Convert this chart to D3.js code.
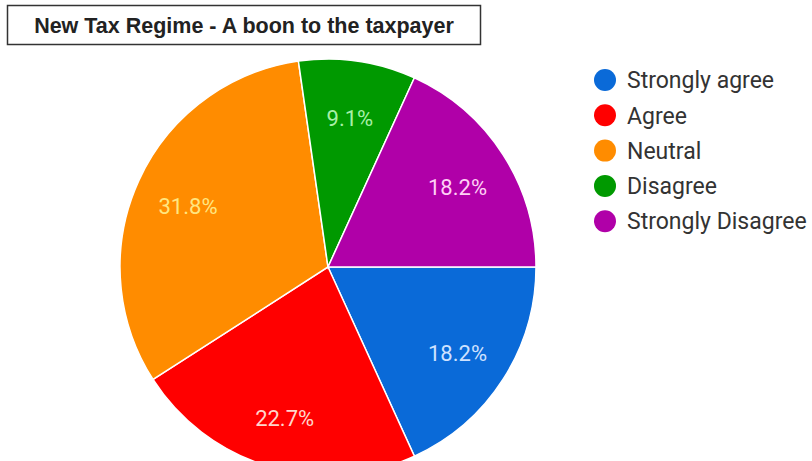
<!DOCTYPE html>
<html>
<head>
<meta charset="utf-8">
<script src="https://cdn.jsdelivr.net/npm/d3@7"></script>
<style>
  html, body { margin: 0; padding: 0; background: #ffffff; }
  svg { display: block; }
</style>
</head>
<body>
<svg id="chart" width="812" height="461"></svg>
<script>
// data
const categories = ["Strongly agree", "Agree", "Neutral", "Disagree", "Strongly Disagree"];
const counts = [4, 5, 7, 2, 4];
const pctLabels = ["18.2%", "22.7%", "31.8%", "9.1%", "18.2%"];
const colors = ["#0a6ad8", "#ff0000", "#ff8c00", "#009900", "#b000a8"];
const labelColors = ["#cfe2ff", "#ffd6cc", "#ffe680", "#a8f0a8", "#ffd0f5"];

const svg = d3.select("#chart");

// title box
svg.append("rect")
  .attr("x", 7.5).attr("y", 5.5)
  .attr("width", 473).attr("height", 39)
  .attr("fill", "#fff")
  .attr("stroke", "#333")
  .attr("stroke-width", 1.5);
svg.append("text")
  .attr("x", 244).attr("y", 33)
  .attr("text-anchor", "middle")
  .attr("font-family", "Liberation Sans, Arial, sans-serif")
  .attr("font-weight", "bold")
  .attr("font-size", 21.5)
  .attr("fill", "#222")
  .text("New Tax Regime - A boon to the taxpayer");

// pie
const cx = 328, cy = 267, r = 208;
const pie = d3.pie().sort(null)
  .startAngle(Math.PI / 2)
  .endAngle(Math.PI / 2 + 2 * Math.PI);
const arcs = pie(counts);
const arc = d3.arc().innerRadius(0).outerRadius(r);
const labelArc = d3.arc().innerRadius(r * 0.74).outerRadius(r * 0.74);

const g = svg.append("g").attr("transform", `translate(${cx},${cy})`);
g.selectAll("path")
  .data(arcs)
  .enter()
  .append("path")
  .attr("d", arc)
  .attr("fill", (d, i) => colors[i])
  .attr("stroke", "#fff")
  .attr("stroke-width", 1.5);

g.selectAll("text")
  .data(arcs)
  .enter()
  .append("text")
  .attr("transform", (d) => `translate(${labelArc.centroid(d)})`)
  .attr("text-anchor", "middle")
  .attr("dy", "0.5em")
  .attr("font-family", "Roboto, sans-serif")
  .attr("font-size", 22)
  .attr("fill", (d, i) => labelColors[i])
  .text((d, i) => pctLabels[i]);

// legend
const legend = svg.append("g").attr("transform", "translate(605,80)");
const rows = legend.selectAll("g")
  .data(categories)
  .enter()
  .append("g")
  .attr("transform", (d, i) => `translate(0,${i * 35.3})`);
rows.append("circle")
  .attr("r", 11)
  .attr("fill", (d, i) => colors[i]);
rows.append("text")
  .attr("x", 22)
  .attr("dy", "0.36em")
  .attr("font-family", "Roboto, sans-serif")
  .attr("font-size", 23)
  .attr("fill", "#333")
  .text((d) => d);
</script>
</body>
</html>
